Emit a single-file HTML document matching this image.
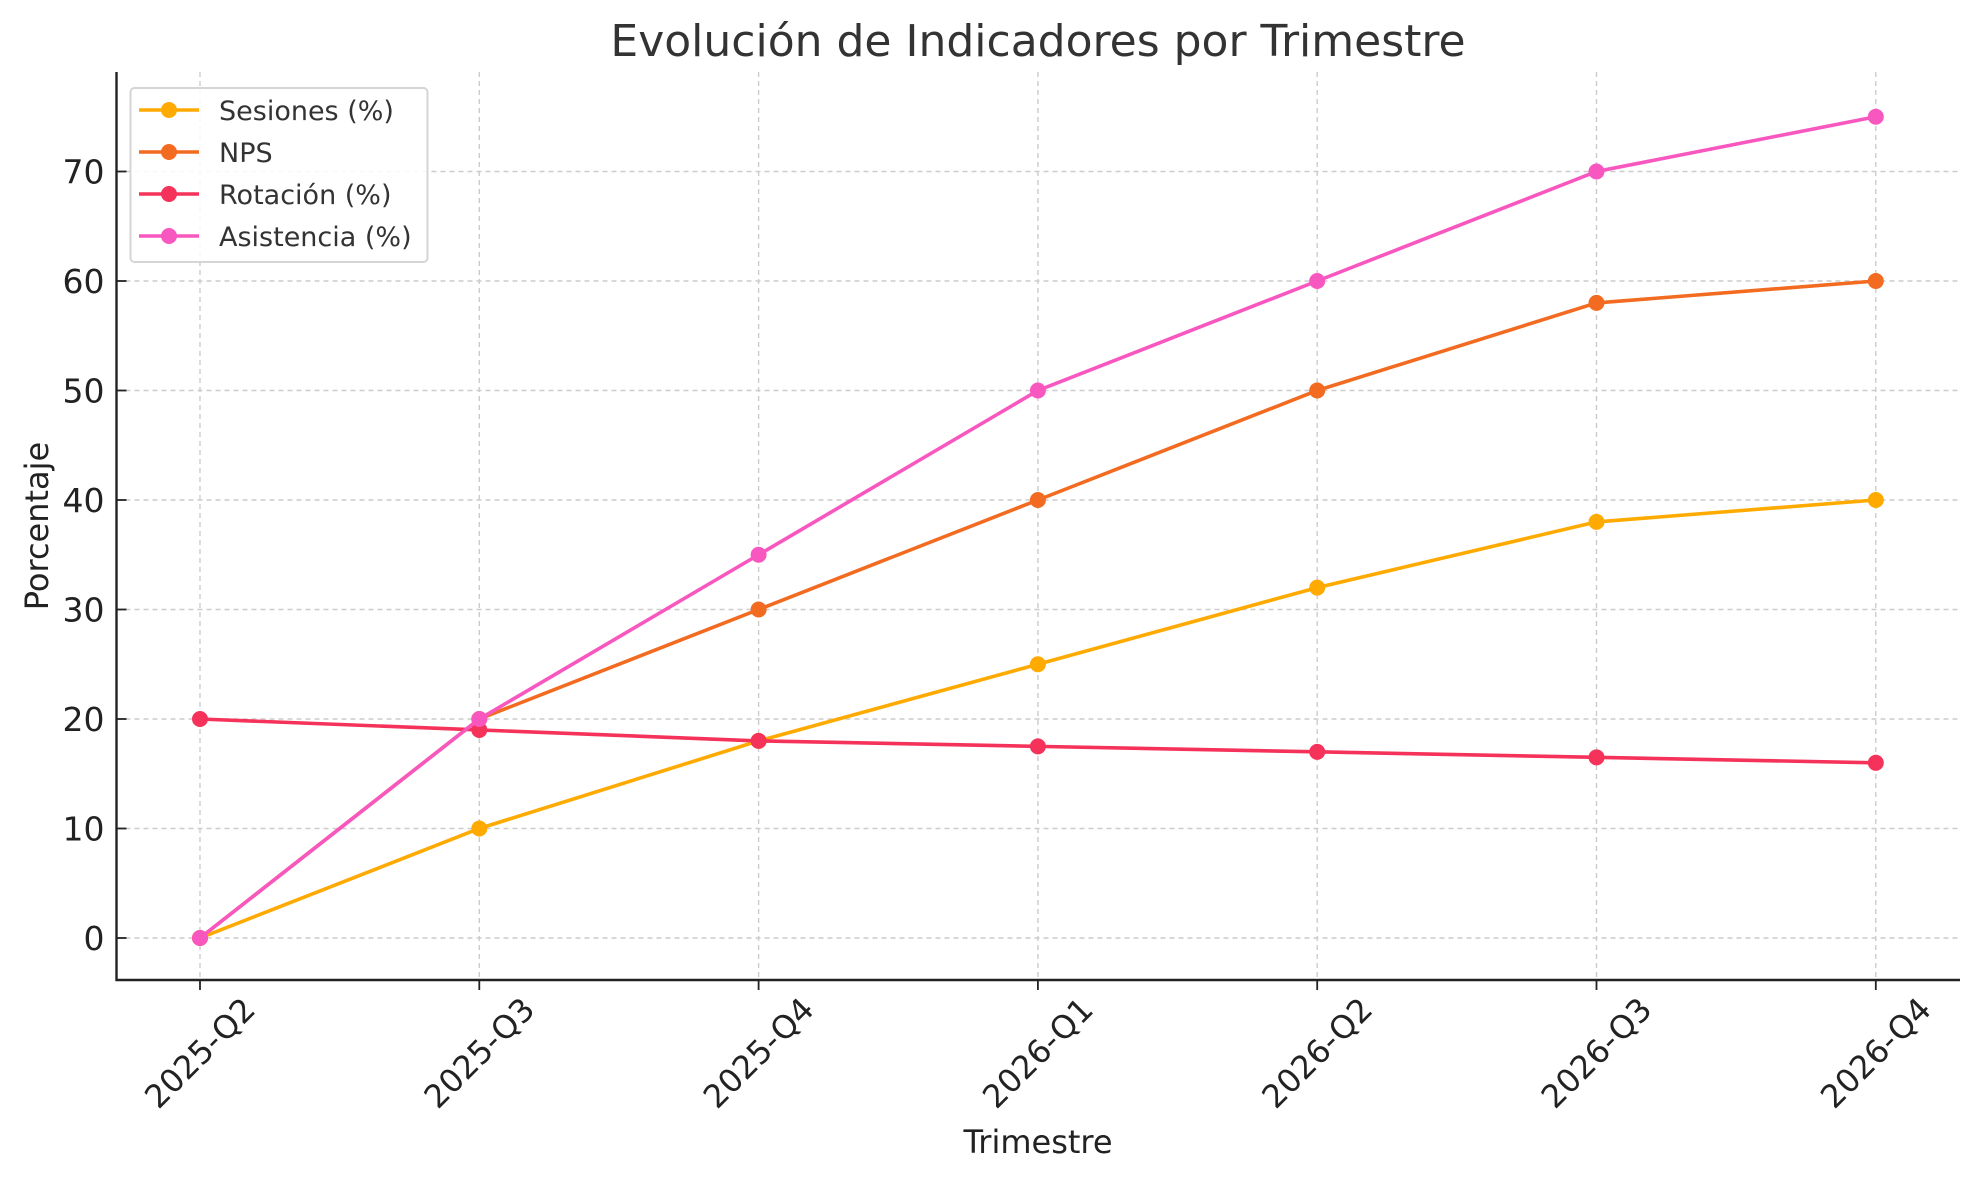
<!DOCTYPE html>
<html><head><meta charset="utf-8"><style>body{margin:0;background:#fff}svg{display:block;font-family:"DejaVu Sans","Liberation Sans",sans-serif}</style></head>
<body>
<svg id="chart" width="1979" height="1180" viewBox="0 0 1979 1180" xmlns="http://www.w3.org/2000/svg">
<text x="1038" y="56" font-size="44" text-anchor="middle" fill="#333">Evolución de Indicadores por Trimestre</text>
<g id="grid"></g><g id="axes"></g><g id="series"></g>
<text x="1038" y="1153" font-size="32" text-anchor="middle" fill="#222">Trimestre</text>
<text transform="translate(48,526) rotate(-90)" font-size="32" text-anchor="middle" fill="#222">Porcentaje</text>
<g id="legend"></g>
</svg>
<script>
const categories=["2025-Q2","2025-Q3","2025-Q4","2026-Q1","2026-Q2","2026-Q3","2026-Q4"];
const sesiones=[0,10,18,25,32,38,40];
const nps=[0,20,30,40,50,58,60];
const rotacion=[20,19,18,17.5,17,16.5,16];
const asistencia=[0,20,35,50,60,70,75];
const yTicks=[0,10,20,30,40,50,60,70];
const seriesNames=["Sesiones (%)","NPS","Rotación (%)","Asistencia (%)"];
const seriesColors=["#FFAA00","#F26B21","#F5325A","#F957C0"];
const seriesData=[sesiones,nps,rotacion,asistencia];
const NS="http://www.w3.org/2000/svg";
const L=116.5,R=1960,T=72,B=980;
const x=i=>200+i*279.3;
const y=v=>938-v*10.95;
function mk(t,a,p){const e=document.createElementNS(NS,t);for(const k in a)e.setAttribute(k,a[k]);p.appendChild(e);return e;}
const grid=document.getElementById('grid'),axes=document.getElementById('axes'),ser=document.getElementById('series'),leg=document.getElementById('legend');
categories.forEach((c,i)=>{
 const g=mk('line',{x1:x(i),x2:x(i),y1:T,y2:B,stroke:'#ccc','stroke-width':1.4,'stroke-dasharray':'5,4'},grid);
 
 
 const tk=mk('line',{x1:x(i),x2:x(i),y1:B,y2:B+10,stroke:'#222','stroke-width':1.8},axes);
 
 
 const t=mk('text',{transform:`translate(${x(i)},${B+73}) rotate(-45)`,'font-size':32,'text-anchor':'middle','dominant-baseline':'central',fill:'#222'},axes);
 t.textContent=c;
 
 
});
yTicks.forEach(v=>{
 const g=mk('line',{x1:L,x2:R,y1:y(v),y2:y(v),stroke:'#ccc','stroke-width':1.4,'stroke-dasharray':'5,4'},grid);
 
 
 const tk=mk('line',{x1:L,x2:L+10,y1:y(v),y2:y(v),stroke:'#222','stroke-width':1.8},axes);
 
 
 const t=mk('text',{x:L-12,y:y(v)+12,'font-size':33,'text-anchor':'end',fill:'#222'},axes);
 t.textContent=v;
 
 
});
const ax=mk('path',{d:`M${L},${T}V${B}H${R}`,fill:'none',stroke:'#222','stroke-width':2.4},axes);


seriesData.forEach((d,s)=>{
 const p=mk('polyline',{points:d.map((v,i)=>x(i)+','+y(v)).join(' '),fill:'none',stroke:seriesColors[s],'stroke-width':3.6},ser);
 
 
 d.forEach((v,i)=>{const c=mk('circle',{cx:x(i),cy:y(v),r:8,fill:seriesColors[s]},ser);
 
 });
});
const box=mk('rect',{x:130.5,y:88,width:297,height:174,rx:4,fill:'#fff','fill-opacity':0.85,stroke:'#d5d5d5','stroke-width':2},leg);


seriesNames.forEach((n,s)=>{
 const yy=110+s*42;
 const l=mk('line',{x1:139,x2:199,y1:yy,y2:yy,stroke:seriesColors[s],'stroke-width':3.6},leg);
 
 
 mk('circle',{cx:169,cy:yy,r:8,fill:seriesColors[s]},leg);
 const t=mk('text',{x:219,y:yy+10,'font-size':27,fill:'#333'},leg);
 t.textContent=n;
 
 
});
</script>
</body></html>
